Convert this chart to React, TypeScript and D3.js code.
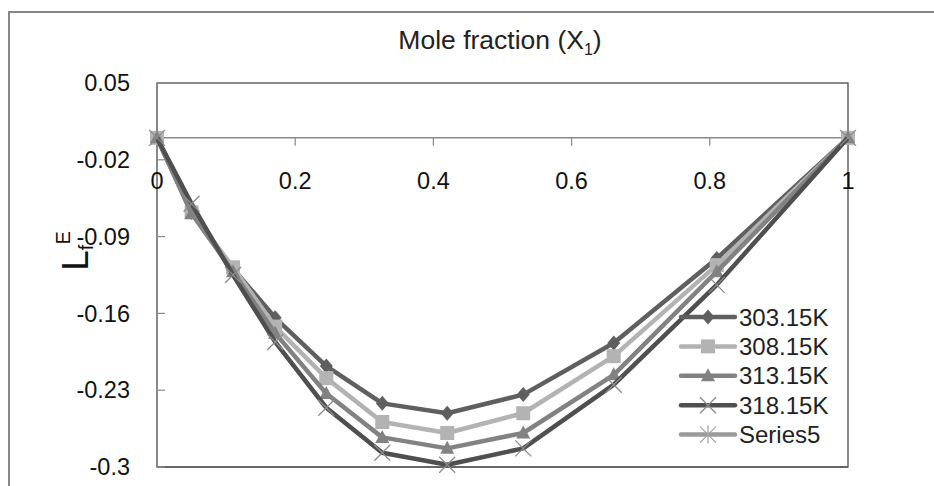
import React from 'react';
import * as d3 from 'd3';

const xValues = [0, 0.05, 0.11, 0.171, 0.245, 0.326, 0.42, 0.53, 0.661, 0.81, 1];
const k303 = [0, -0.068, -0.119, -0.164, -0.208, -0.242, -0.251, -0.234, -0.187, -0.11, 0];
const k308 = [0, -0.068, -0.118, -0.172, -0.219, -0.259, -0.269, -0.251, -0.199, -0.116, 0];
const k313 = [0, -0.069, -0.122, -0.178, -0.233, -0.273, -0.283, -0.269, -0.216, -0.122, 0];
const k318 = [0, -0.06, -0.125, -0.186, -0.246, -0.287, -0.298, -0.283, -0.225, -0.134, 0];
const series5: number[] = [];

const seriesNames = ['303.15K', '308.15K', '313.15K', '318.15K', 'Series5'];
const yTicks = [0.05, -0.02, -0.09, -0.16, -0.23, -0.3];
const xTicks = [0, 0.2, 0.4, 0.6, 0.8, 1];

const W = 934;
const H = 486;
const FONT = "'Liberation Sans', Arial, sans-serif";

const series = [
  { name: seriesNames[0], values: k303, color: '#5f5f5f', marker: 'diamond' },
  { name: seriesNames[1], values: k308, color: '#b3b3b3', marker: 'square' },
  { name: seriesNames[2], values: k313, color: '#828282', marker: 'triangle' },
  { name: seriesNames[3], values: k318, color: '#4f4f4f', marker: 'x' },
  { name: seriesNames[4], values: series5, color: '#9a9a9a', marker: 'star' },
];

function Marker({ type, x, y, color }: { type: string; x: number; y: number; color: string }) {
  if (type === 'diamond') {
    return <path d={`M${x},${y - 7.5}L${x + 6.5},${y}L${x},${y + 7.5}L${x - 6.5},${y}Z`} fill={color} />;
  }
  if (type === 'square') {
    return <rect x={x - 7} y={y - 7} width={14} height={14} fill={color} />;
  }
  if (type === 'triangle') {
    return <path d={`M${x},${y - 7.5}L${x + 7},${y + 5.5}L${x - 7},${y + 5.5}Z`} fill={color} />;
  }
  if (type === 'x') {
    return (
      <path
        d={`M${x - 8},${y - 8}L${x + 8},${y + 8}M${x - 8},${y + 8}L${x + 8},${y - 8}`}
        stroke="#8c8c8c"
        strokeWidth={1.3}
      />
    );
  }
  return (
    <path
      d={`M${x - 8},${y - 8}L${x + 8},${y + 8}M${x - 8},${y + 8}L${x + 8},${y - 8}M${x},${y - 9}L${x},${y + 9}`}
      stroke="#a5a5a5"
      strokeWidth={1.3}
    />
  );
}

export default function App() {
  const left = 157;
  const right = 848;
  const top = 83;
  const bottom = 467;

  const x = d3.scaleLinear().domain([0, 1]).range([left, right]);
  const y = d3.scaleLinear().domain([-0.3, 0.05]).range([bottom, top]);

  const line = d3
    .line<[number, number]>()
    .x(d => x(d[0]))
    .y(d => y(d[1]));

  const fmt = (v: number) => String(+v.toFixed(2));
  const y0 = y(0);

  const legendX = 681;
  const legendY = 317;
  const legendStep = 29.4;

  return (
    <svg width={W} height={H} style={{ position: 'absolute', left: 0, top: 0, background: '#fff' }} fontFamily={FONT}>
      <rect x={9} y={12} width={W + 20} height={H + 20} fill="#fff" stroke="#888" strokeWidth={2} />

      <text x={500} y={49} textAnchor="middle" fontSize={26.5} fill="#222">
        Mole fraction (X
        <tspan fontSize={16} dy={6}>1</tspan>
        <tspan dy={-6}>)</tspan>
      </text>

      {/* plot area frame */}
      <rect x={left} y={top} width={right - left} height={bottom - top} fill="none" stroke="#3c3c3c" strokeWidth={1.2} />
      <line x1={left} x2={right} y1={bottom} y2={bottom} stroke="#666" strokeWidth={2} />

      {/* y axis */}
      <line x1={left} x2={left} y1={top} y2={bottom} stroke="#8a8a8a" strokeWidth={1.5} />
      {yTicks.map(t => (
        <g key={t}>
          <line x1={left} x2={left + 8} y1={y(t)} y2={y(t)} stroke="#8a8a8a" strokeWidth={1.2} />
          <text x={130} y={y(t)} dy="0.35em" textAnchor="end" fontSize={23.5} fill="#111">
            {fmt(t)}
          </text>
        </g>
      ))}

      {/* x axis at y = 0 */}
      <line x1={left} x2={right} y1={y0} y2={y0} stroke="#8a8a8a" strokeWidth={1.5} />
      {xTicks.map(t => (
        <g key={t}>
          <line x1={x(t)} x2={x(t)} y1={y0} y2={y0 + 8} stroke="#8a8a8a" strokeWidth={1.2} />
          <text x={x(t)} y={188.5} textAnchor="middle" fontSize={23.5} fill="#111">
            {fmt(t)}
          </text>
        </g>
      ))}

      {/* axis title */}
      <text transform="translate(88,251) rotate(-90)" textAnchor="middle" fontSize={37} fill="#111">
        L
        <tspan fontSize={20} dy={5}>f</tspan>
        <tspan fontSize={20} dy={-23}>E</tspan>
      </text>

      {/* series */}
      {series.map(s => {
        const pts = s.values.map((v, i) => [xValues[i], v] as [number, number]);
        return (
          <g key={s.name}>
            {pts.length > 0 && (
              <path d={line(pts) || ''} fill="none" stroke={s.color} strokeWidth={4.5} strokeLinejoin="round" />
            )}
            {pts.map((p, i) => (
              <Marker key={i} type={s.marker} x={x(p[0])} y={y(p[1])} color={s.color} />
            ))}
          </g>
        );
      })}

      {/* legend */}
      {series.map((s, i) => {
        const ly = legendY + i * legendStep;
        return (
          <g key={s.name}>
            <line x1={legendX} x2={legendX + 54} y1={ly} y2={ly} stroke={s.color} strokeWidth={4.5} strokeLinecap="round" />
            <Marker type={s.marker} x={legendX + 27} y={ly} color={s.color} />
            <text x={legendX + 58} y={ly} dy="0.36em" fontSize={24} fill="#222">
              {s.name}
            </text>
          </g>
        );
      })}
    </svg>
  );
}
